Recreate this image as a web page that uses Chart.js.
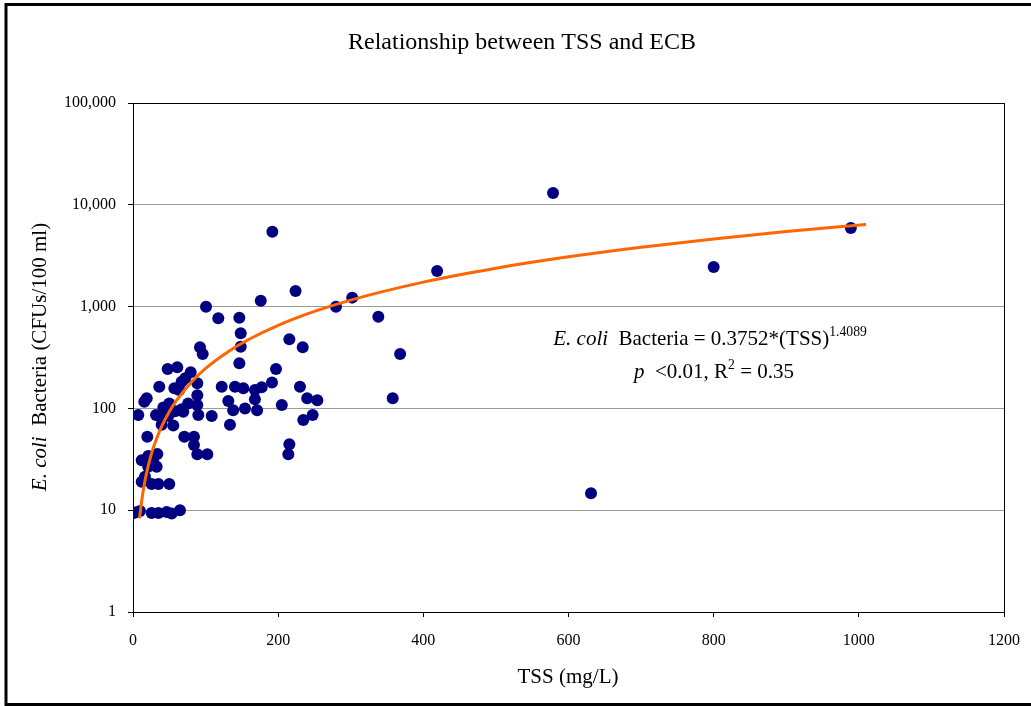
<!DOCTYPE html>
<html>
<head>
<meta charset="utf-8">
<script src="https://cdn.jsdelivr.net/npm/chart.js@4/dist/chart.umd.min.js"></script>
<style>
  body { margin: 0; background: #fff; }
  canvas { display: block; }
</style>
</head>
<body>
<canvas id="myChart" width="1031" height="706"></canvas>
<script>
// TSS (mg/L) and E. coli counts
const tssValues = [
  0.5, 3, 9.6, 25.7, 35, 46.4, 53.3, 64.7,
  12, 16.5, 25.7, 35, 50,
  12, 21, 33.5, 28, 32.6, 21,
  19.7, 70.7, 84, 84, 88.6, 102.4, 215.4, 214,
  39.5, 55.5, 133.6, 7.3, 31.7, 39.5, 48.6, 90, 108.4, 247.5, 234.6,
  18.9, 15.6, 50, 76, 131.3, 168, 240, 254, 41.8, 67, 58, 88.6, 138, 154.3, 171, 205, 69.3, 88.6, 357.8,
  36.2, 57, 63.8, 88.6, 122.2, 140.5, 152, 191.5, 168, 177.3, 230, 72, 67, 47.8, 61, 79.5, 197, 146.5,
  92.3, 96, 148.4, 148.4, 215.4, 233.8, 368,
  100.6, 117.5, 146.5, 176, 224, 279.7, 302, 338,
  192, 419, 578.7, 631, 800, 989
];
const ecbValues = [
  9.4, 9.5, 9.8, 9.4, 9.4, 9.6, 9.3, 10,
  19, 21.3, 18.1, 18.1, 18.1,
  31, 34, 35.6, 30, 26.7, 26.7,
  52.7, 52.7, 52.7, 43.6, 35.4, 35.4, 44.4, 35.4,
  69, 68, 69, 86, 86, 80, 84, 86, 84, 86, 77,
  126, 116, 112, 112, 118, 123, 126, 120, 102, 98, 94, 108, 96, 100, 96, 108, 92.5, 135, 126,
  163, 158, 152, 177, 163, 163, 158, 180, 152, 161, 163, 198, 183, 244, 253, 226, 244, 277,
  398, 342, 404, 547, 477, 398, 342,
  998, 767, 778, 1143, 1422, 998, 1225, 795,
  5445, 2240, 13060, 14.7, 2450, 5920
];

// power trendline as drawn in the picture
const trendX = [9, 12, 16, 20, 25, 30, 40, 50, 60, 80, 100, 130, 160, 200, 250, 300, 400, 500, 600, 700, 800, 900, 1010];
const trendY = [8.3, 12.4, 18.7, 25.5, 35, 45.2, 67.8, 92.9, 120, 180, 247, 357, 478, 655, 897, 1159, 1739, 2384, 3082, 3829, 4621, 5456, 6418];

const xTicks = [0, 200, 400, 600, 800, 1000, 1200];
const yTicks = [1, 10, 100, 1000, 10000, 100000];

const serif = '"Liberation Serif", "Times New Roman", serif';

function drawRuns(ctx, runs, x, y, size, align) {
  let total = 0;
  runs.forEach(r => {
    ctx.font = (r.italic ? 'italic ' : '') + (r.sup ? size * 0.65 : size) + 'px ' + serif;
    r.w = ctx.measureText(r.text).width;
    total += r.w;
  });
  let cx = align === 'center' ? x - total / 2 : x;
  runs.forEach(r => {
    ctx.font = (r.italic ? 'italic ' : '') + (r.sup ? size * 0.65 : size) + 'px ' + serif;
    ctx.fillText(r.text, cx, r.sup ? y - size * 0.42 : y);
    cx += r.w;
  });
}

const decorations = {
  id: 'decorations',
  beforeDatasetsDraw(chart) {
    const ctx = chart.ctx;
    const a = chart.chartArea;
    ctx.save();
    ctx.strokeStyle = '#000';
    ctx.lineWidth = 1;
    ctx.strokeRect(a.left + 0.5, a.top + 0.5, a.right - a.left, a.bottom - a.top);
    ctx.restore();
  },
  afterDraw(chart) {
    const ctx = chart.ctx;
    ctx.save();
    // outer frame
    ctx.strokeStyle = '#000';
    ctx.lineWidth = 3;
    ctx.strokeRect(6, 4.5, 1040, 700);

    ctx.fillStyle = '#000';
    ctx.textBaseline = 'alphabetic';
    ctx.textAlign = 'left';
    drawRuns(ctx, [{ text: 'Relationship between TSS and ECB' }], 522, 49, 24, 'center');
    drawRuns(ctx, [{ text: 'TSS (mg/L)' }], 568, 683, 21, 'center');

    ctx.save();
    ctx.translate(46, 357);
    ctx.rotate(-Math.PI / 2);
    drawRuns(ctx, [{ text: 'E. coli', italic: true }, { text: '  Bacteria (CFUs/100 ml)' }], 0, 0, 21, 'center');
    ctx.restore();

    // equation box
    drawRuns(ctx, [
      { text: 'E. coli', italic: true },
      { text: '  Bacteria = 0.3752*(TSS)' },
      { text: '1.4089', sup: true }
    ], 710, 345, 21, 'center');
    drawRuns(ctx, [
      { text: 'p', italic: true },
      { text: '  <0.01, R' },
      { text: '2', sup: true },
      { text: ' = 0.35' }
    ], 714, 378, 21, 'center');
    ctx.restore();
  }
};

const ctx = document.getElementById('myChart').getContext('2d');

new Chart(ctx, {
  type: 'scatter',
  data: {
    datasets: [
      {
        label: 'Trend',
        data: trendX.map((x, i) => ({ x: x, y: trendY[i] })),
        showLine: true,
        borderColor: '#ff6600',
        borderWidth: 3,
        pointRadius: 0,
        cubicInterpolationMode: 'monotone',
        order: 0
      },
      {
        label: 'Samples',
        data: tssValues.map((x, i) => ({ x: x, y: ecbValues[i] })),
        backgroundColor: '#000080',
        borderColor: '#000080',
        borderWidth: 0,
        pointRadius: 6,
        order: 1
      }
    ]
  },
  options: {
    responsive: false,
    animation: false,
    layout: { padding: { left: 0, right: 27, top: 103, bottom: 0 } },
    plugins: {
      legend: { display: false },
      tooltip: { enabled: false }
    },
    scales: {
      x: {
        type: 'linear',
        min: 0,
        max: 1200,
        afterBuildTicks: axis => { axis.ticks = xTicks.map(v => ({ value: v })); },
        afterFit: scale => {
          scale.height = 94;
          scale.paddingLeft = 0;
          scale.paddingRight = 0;
        },
        ticks: {
          callback: v => String(v),
          color: '#000',
          font: { family: serif, size: 16 },
          padding: 14,
          maxRotation: 0,
          autoSkip: false
        },
        grid: { drawOnChartArea: false, tickLength: 5, tickColor: '#000' },
        border: { color: '#000', width: 1 }
      },
      y: {
        type: 'logarithmic',
        min: 1,
        max: 100000,
        afterBuildTicks: axis => { axis.ticks = yTicks.map(v => ({ value: v })); },
        afterFit: scale => { scale.width = 133; },
        ticks: {
          callback: v => v.toString().replace(/\B(?=(\d{3})+(?!\d))/g, ','),
          color: '#000',
          font: { family: serif, size: 16 },
          padding: 12,
          autoSkip: false
        },
        grid: { color: '#999', tickColor: '#000', tickLength: 5 },
        border: { color: '#000', width: 1 }
      }
    }
  },
  plugins: [decorations]
});
</script>
</body>
</html>
